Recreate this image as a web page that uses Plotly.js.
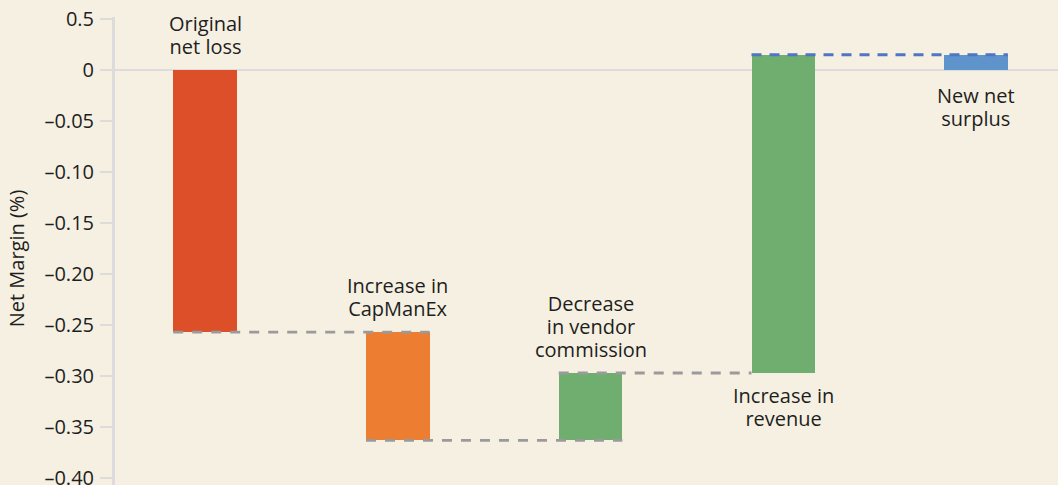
<!DOCTYPE html>
<html>
<head>
<meta charset="utf-8">
<script src="https://cdn.plot.ly/plotly-3.0.1.min.js"></script>
<style>
html,body{margin:0;padding:0;background:#f5f0e1;overflow:hidden;}
#chart{width:1058px;height:500px;}
</style>
</head>
<body>
<div id="chart"></div>
<script>
// ---- data ----
const categories = ["Original net loss", "Increase in CapManEx", "Decrease in vendor commission", "Increase in revenue", "New net surplus"];
const labelLines = [["Original", "net loss"], ["Increase in", "CapManEx"], ["Decrease", "in vendor", "commission"], ["Increase in", "revenue"], ["New net", "surplus"]];
const startValues = [0, -0.257, -0.363, -0.297, 0];
const endValues   = [-0.257, -0.363, -0.297, 0.015, 0.015];
const barColors   = ["#dd4f29", "#ed7e31", "#70ae6f", "#70ae6f", "#5f93cc"];
const labelBelow  = [false, false, false, true, true];
const tickValues  = [0.05, 0, -0.05, -0.10, -0.15, -0.20, -0.25, -0.30, -0.35, -0.40];
const tickLabels  = ["0.5", "0", "\u20130.05", "\u20130.10", "\u20130.15", "\u20130.20", "\u20130.25", "\u20130.30", "\u20130.35", "\u20130.40"];

const xs = categories.map((c, i) => i);
const BW = 0.33;
const hw = BW / 2;
const FONT = "'Open Sans', 'Noto Sans', sans-serif";

const traces = [];
traces.push({
  type: "bar",
  x: xs,
  base: startValues,
  y: endValues.map((e, i) => e - startValues[i]),
  width: BW,
  marker: {color: barColors, line: {width: 0}},
  hoverinfo: "skip",
  showlegend: false
});

function connector(x0, x1, y, color, dash) {
  traces.push({
    type: "scatter", mode: "lines",
    x: [x0, x1], y: [y, y],
    line: {color: color, width: 2.8, dash: dash},
    hoverinfo: "skip", showlegend: false
  });
}
connector(xs[0] - hw, xs[1] + hw, endValues[0], "#9a9a9a", "10px,9px");
connector(xs[1] - hw, xs[2] + hw, endValues[1], "#9a9a9a", "10px,9px");
connector(xs[2] - hw, xs[3] - hw, endValues[2], "#9a9a9a", "10px,9px");
connector(xs[3] - hw, xs[4] + hw, endValues[3], "#4f76c4", "10px,8px");

const annotations = labelLines.map((lines, i) => {
  const top = Math.max(startValues[i], endValues[i]);
  const bot = Math.min(startValues[i], endValues[i]);
  const below = labelBelow[i];
  return {
    x: xs[i], xref: "x",
    y: below ? bot : top, yref: "y",
    text: lines.map(l => '<span style="font-size:20px">' + l + '</span>').join("<br>"),
    showarrow: false,
    yanchor: below ? "top" : "bottom",
    yshift: below ? (i === 3 ? -7 : -10) : 8,
    font: {family: FONT, size: 17.7, color: "#1e1e1e"},
    align: "center"
  };
});

const layout = {
  width: 1058, height: 500,
  margin: {l: 115, r: 0, t: 17, b: 0},
  paper_bgcolor: "#f5f0e1",
  plot_bgcolor: "#f5f0e1",
  font: {family: FONT, color: "#1e1e1e"},
  xaxis: {
    range: [-0.467, 4.425],
    showgrid: false, zeroline: false, showticklabels: false,
    showline: false, ticks: ""
  },
  yaxis: {
    range: [-0.4215, 0.052],
    tickvals: tickValues, ticktext: tickLabels,
    tickfont: {family: FONT, size: 20, color: "#1e1e1e"},
    ticks: "outside", ticklen: 12, tickwidth: 2.5, tickcolor: "#dcdcdc",
    ticklabelstandoff: 2,
    showgrid: false,
    showline: true, linecolor: "#dcdcdc", linewidth: 3,
    zeroline: true, zerolinecolor: "#dcdcdc", zerolinewidth: 2.5,
    title: {text: "Net Margin (%)", font: {family: FONT, size: 20, color: "#1e1e1e"}, standoff: 15}
  },
  annotations: annotations,
  bargap: 0
};

Plotly.newPlot("chart", traces, layout, {displayModeBar: false, staticPlot: true});
</script>
</body>
</html>
